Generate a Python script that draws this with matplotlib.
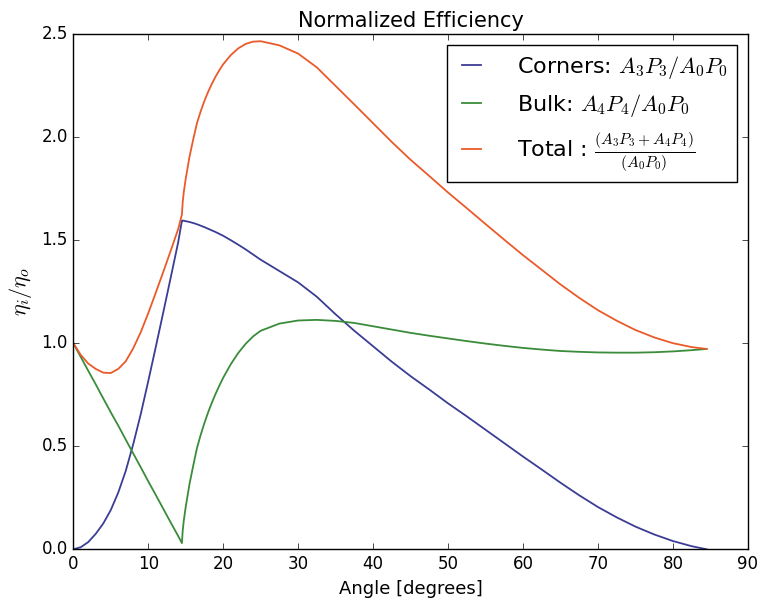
import numpy as np
import matplotlib
matplotlib.use("Agg")
import matplotlib.pyplot as plt

# angle grid (degrees) and curves
angles = [0, 1, 2, 3, 4, 5, 6, 7, 8, 9, 10, 11, 12, 13, 14, 14.5,
          14.6, 14.75, 15, 15.5, 16, 16.5, 17, 17.5, 18, 18.5, 19, 19.5, 20,
          21, 22, 23, 24, 25, 27.5, 30, 32.5, 35, 37.5, 40, 42.5, 45,
          47.5, 50, 52.5, 55, 57.5, 60, 62.5, 65, 67.5, 70, 72.5, 75,
          77.5, 80, 82.5, 84.5]

corners = [0.0, 0.01, 0.035, 0.075, 0.125, 0.19, 0.275, 0.38, 0.51, 0.655,
           0.815, 0.98, 1.148, 1.318, 1.49, 1.595,
           1.5945, 1.594, 1.592, 1.588, 1.583, 1.577, 1.57, 1.563, 1.555,
           1.547, 1.539, 1.53, 1.521, 1.5, 1.478, 1.455, 1.43, 1.405, 1.35,
           1.295, 1.225, 1.14, 1.06, 0.985, 0.91, 0.84, 0.775, 0.708, 0.645,
           0.58, 0.515, 0.45, 0.387, 0.323, 0.262, 0.205, 0.155, 0.11, 0.072,
           0.04, 0.015, 0.0]

bulk = [1.0, 0.933, 0.866, 0.8, 0.732, 0.665, 0.6, 0.532, 0.465, 0.398,
        0.33, 0.264, 0.197, 0.13, 0.064, 0.03,
        0.09, 0.14, 0.205, 0.315, 0.405, 0.49, 0.555, 0.613, 0.665, 0.712,
        0.755, 0.795, 0.832, 0.897, 0.952, 0.997, 1.033, 1.06, 1.095, 1.11,
        1.113, 1.108, 1.098, 1.082, 1.066, 1.05, 1.036, 1.023, 1.01, 0.998,
        0.987, 0.977, 0.969, 0.962, 0.958, 0.955, 0.954, 0.954, 0.956, 0.96,
        0.966, 0.972]

angles = np.array(angles)
corners = np.array(corners)
bulk = np.array(bulk)
total = corners + bulk

plt.style.use("classic")
plt.rcParams["figure.facecolor"] = "white"
plt.rcParams["savefig.facecolor"] = "white"
plt.rcParams["mathtext.fontset"] = "cm"

fig = plt.figure(figsize=(7.6, 6.04), dpi=100)
ax = fig.add_axes([0.0964, 0.0906, 0.8876, 0.8531])

ax.plot(angles, corners, color="#3b3d94", lw=1.3,
        label=r"Corners: $A_3P_3/A_0P_0$")
ax.plot(angles, bulk, color="#3a8c3a", lw=1.3,
        label=r"Bulk: $A_4P_4/A_0P_0$")
ax.plot(angles, total, color="#ea5a2a", lw=1.3,
        label=r"Total : $\frac{(A_3P_3+A_4P_4)}{(A_0P_0)}$")

ax.set_xlim(0, 90)
ax.set_ylim(0, 2.5)
ax.set_xticks(np.arange(0, 91, 10))
ax.set_yticks(np.arange(0, 2.51, 0.5))
ax.tick_params(labelsize=12)
ax.set_xlabel("Angle [degrees]", fontsize=13)
ax.set_ylabel(r"$\eta_i/\eta_o$", fontsize=16)
ax.set_title("Normalized Efficiency", fontsize=15, pad=5)
ax.legend(loc="upper right", fontsize=16, handlelength=1.45,
          handletextpad=1.3)

fig.savefig("out.png", dpi=100)
